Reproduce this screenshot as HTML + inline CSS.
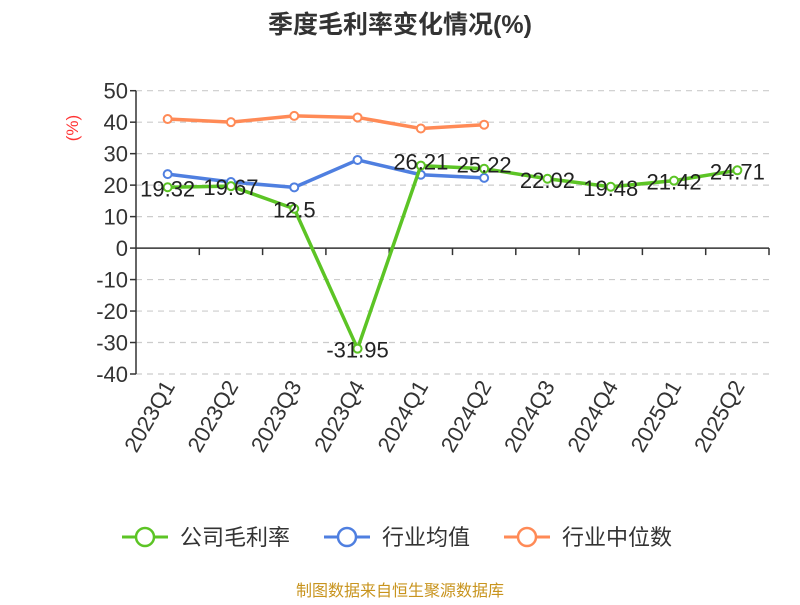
<!DOCTYPE html>
<html><head><meta charset="utf-8"><style>
body{margin:0;background:#fff;font-family:"Liberation Sans","Noto Sans CJK SC",sans-serif}
</style></head><body>
<svg width="800" height="600" font-family="Liberation Sans, Noto Sans CJK SC, sans-serif">
<text x="400" y="33" text-anchor="middle" font-size="25" font-weight="bold" fill="#333">季度毛利率变化情况(%)</text>
<text x="78" y="128" transform="rotate(-90 78 128)" text-anchor="middle" font-size="17" fill="#f33">(%)</text>
<g id="grid"></g><g id="axes"></g><g id="series"></g>
<g font-size="22" fill="#333">
<g><line x1="122" y1="537" x2="168" y2="537" stroke="#5cc425" stroke-width="3"/><circle cx="145" cy="537" r="9" fill="#fff" stroke="#5cc425" stroke-width="2.5"/><text x="180" y="545">公司毛利率</text></g>
<g><line x1="324" y1="537" x2="370" y2="537" stroke="#4f7fe0" stroke-width="3"/><circle cx="347" cy="537" r="9" fill="#fff" stroke="#4f7fe0" stroke-width="2.5"/><text x="382" y="545">行业均值</text></g>
<g><line x1="504" y1="537" x2="550" y2="537" stroke="#ff8a56" stroke-width="3"/><circle cx="527" cy="537" r="9" fill="#fff" stroke="#ff8a56" stroke-width="2.5"/><text x="562" y="545">行业中位数</text></g>
</g>
<text x="400" y="596" text-anchor="middle" font-size="16" fill="#c8941e">制图数据来自恒生聚源数据库</text>
</svg>
<script>
const categories=["2023Q1","2023Q2","2023Q3","2023Q4","2024Q1","2024Q2","2024Q3","2024Q4","2025Q1","2025Q2"];
const grossMargin=[19.32,19.67,12.5,-31.95,26.21,25.22,22.02,19.48,21.42,24.71];
const industryAvg=[23.5,21,19.3,28,23.3,22.3];
const industryMedian=[41,40,42,41.5,38,39.2];
const yTicks=[50,40,30,20,10,0,-10,-20,-30,-40];
const NS="http://www.w3.org/2000/svg";
const L=136,R=769,T=90.7,B=374;
const bw=(R-L)/categories.length;
const xS=i=>L+bw*(i+0.5);
const yS=v=>T+(50-v)/90*(B-T);
function mk(tag,attrs,parent,text){const e=document.createElementNS(NS,tag);for(const k in attrs)e.setAttribute(k,attrs[k]);if(text!==undefined)e.textContent=text;document.getElementById(parent).appendChild(e);return e;}
yTicks.forEach(v=>{
 const y=yS(v);
 if(v!==0){const g=mk("line",{x1:L,x2:R,y1:y,y2:y,stroke:"#ccc","stroke-dasharray":"6,5","stroke-width":1.2},"grid");
 
 }
 const t=mk("line",{x1:L-6,x2:L,y1:y,y2:y,stroke:"#333","stroke-width":1.5},"axes");
 
 
 const tx=mk("text",{x:L-8,y:y+8,"text-anchor":"end","font-size":22,fill:"#333"},"axes",v);
 
 
});
const ya=mk("line",{x1:L,x2:L,y1:T,y2:B,stroke:"#333","stroke-width":1.5},"axes");


const y0=yS(0);
const xa=mk("line",{x1:L,x2:R,y1:y0,y2:y0,stroke:"#333","stroke-width":1.5},"axes");


categories.forEach((c,i)=>{
 const x=L+bw*(i+1);
 const t=mk("line",{x1:x,x2:x,y1:y0,y2:y0+7,stroke:"#333","stroke-width":1.5},"axes");
 
 
 const cx=xS(i)+8,cy=386;
 const tx=mk("text",{x:cx,y:cy,"text-anchor":"end","font-size":22,fill:"#333",transform:`rotate(-60 ${cx} ${cy})`},"axes",c);
 
 
});
function series(data,color,name,labels){
 const pts=data.map((v,i)=>xS(i)+","+yS(v)).join(" ");
 const pl=mk("polyline",{points:pts,fill:"none",stroke:color,"stroke-width":3.5,"stroke-linejoin":"round"},"series");
 
 
 data.forEach((v,i)=>{
  const c=mk("circle",{cx:xS(i),cy:yS(v),r:4,fill:"#fff",stroke:color,"stroke-width":2},"series");
  
  
  if(labels){
   const t=mk("text",{x:xS(i),y:yS(v)+(v>25?-4:1)+8,"text-anchor":"middle","font-size":22,fill:"#222"},"series",v);
   
   
  }
 });
}
series(industryMedian,"#ff8a56","industry-median",false);
series(industryAvg,"#4f7fe0","industry-avg",false);
series(grossMargin,"#5cc425","gross-margin",true);
</script>
</body></html>
